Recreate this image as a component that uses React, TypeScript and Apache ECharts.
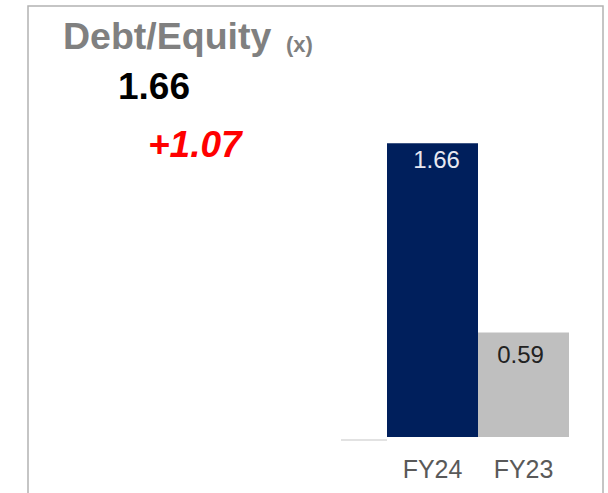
import React, { useEffect, useRef } from "react";
import * as echarts from "echarts";

const categories = ["FY24", "FY23"];
const values = [1.66, 0.59];
const barColors = ["#001f5c", "#bfbfbf"];
const labelColors = ["#e8e8f0", "#222222"];
const labelDistances = [4, 10];
const labelOffsets = [[4, 0], [-3, 0]];
const titleText = "Debt/Equity";
const unitText = "(x)";
const currentValueText = "1.66";
const changeText = "+1.07";

const FONT = "Liberation Sans, Arial, sans-serif";

export default function App() {
  const ref = useRef<HTMLDivElement>(null);
  useEffect(() => {
    if (!ref.current) return;
    const chart = echarts.init(ref.current, undefined, { renderer: "svg" });
    chart.setOption({
      animation: false,
      backgroundColor: "#ffffff",
      grid: { left: 387, right: 39, top: 83, bottom: 56 },
      xAxis: {
        type: "category",
        data: categories,
        axisLine: { show: false },
        axisTick: { show: false },
        axisLabel: {
          color: "#595959",
          fontSize: 25,
          fontFamily: FONT,
          margin: 19,
        },
      },
      yAxis: {
        type: "value",
        min: 0,
        max: 2,
        show: false,
        splitLine: { show: false },
      },
      series: [
        {
          type: "bar",
          barCategoryGap: "0%",
          data: values.map((v, i) => ({
            value: v,
            itemStyle: { color: barColors[i] },
            label: {
              show: true,
              position: "insideTop",
              distance: labelDistances[i],
              offset: labelOffsets[i],
              color: labelColors[i],
              fontSize: 24,
              fontFamily: FONT,
              formatter: (p: any) => p.value.toFixed(2),
            },
          })),
        },
      ],
      graphic: [
        {
          type: "rect",
          shape: { x: 28, y: 6, width: 575, height: 600 },
          style: { fill: "none", stroke: "#b3b3b3", lineWidth: 1.5 },
          silent: true,
        },
        {
          type: "line",
          shape: { x1: 341, y1: 440, x2: 387, y2: 440 },
          style: { stroke: "#d9d9d9", lineWidth: 1.5 },
        },
        {
          type: "text",
          x: 63,
          y: 36,
          style: {
            text: titleText,
            fill: "#808080",
            fontSize: 37.5,
            fontWeight: "bold",
            fontFamily: FONT,
            textVerticalAlign: "middle",
          },
        },
        {
          type: "text",
          x: 286,
          y: 44,
          style: {
            text: unitText,
            fill: "#808080",
            fontSize: 22,
            fontWeight: "bold",
            fontFamily: FONT,
            textVerticalAlign: "middle",
          },
        },
        {
          type: "text",
          x: 118,
          y: 86,
          style: {
            text: currentValueText,
            fill: "#000000",
            fontSize: 37,
            fontWeight: "bold",
            fontFamily: FONT,
            textVerticalAlign: "middle",
          },
        },
        {
          type: "text",
          x: 148,
          y: 144,
          style: {
            text: changeText,
            fill: "#ff0000",
            fontSize: 37,
            fontWeight: "bold",
            fontStyle: "italic",
            fontFamily: FONT,
            textVerticalAlign: "middle",
          },
        },
      ],
    });
    return () => chart.dispose();
  }, []);
  return (
    <div
      ref={ref}
      style={{ position: "absolute", left: 0, top: 0, width: 608, height: 493 }}
    />
  );
}
